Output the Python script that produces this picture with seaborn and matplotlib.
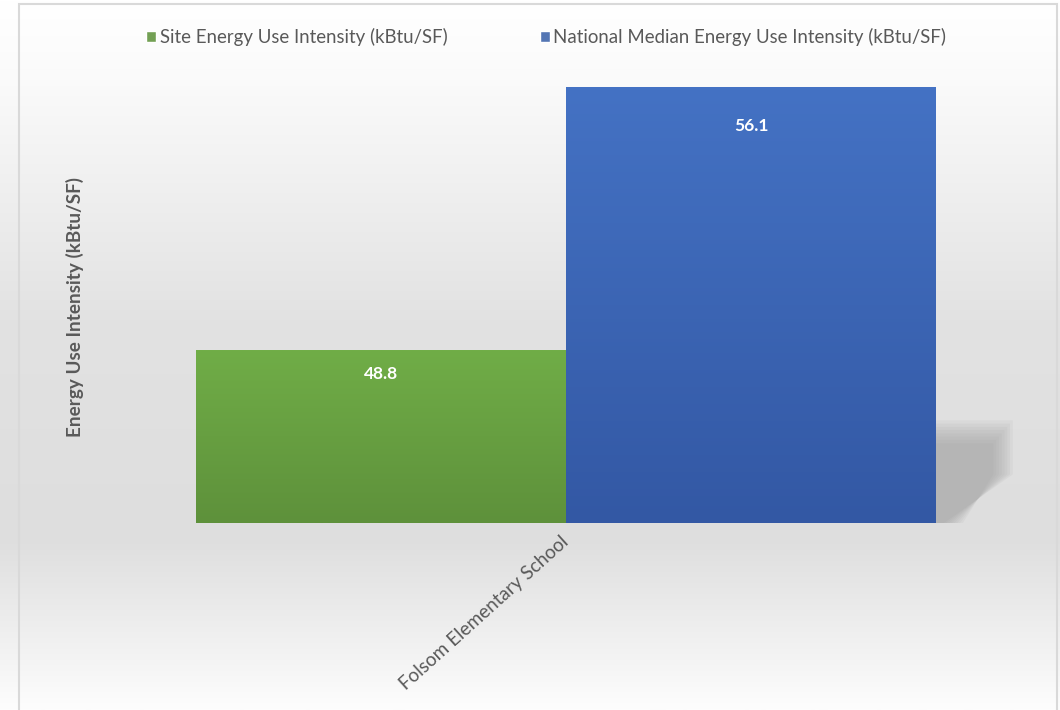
import numpy as np
import pandas as pd
import matplotlib
matplotlib.use("Agg")
import matplotlib.pyplot as plt
import seaborn as sns
from matplotlib.colors import LinearSegmentedColormap
from matplotlib.patches import Polygon, Rectangle

# Data
schools = ["Folsom Elementary School"]
series = ["Site Energy Use Intensity (kBtu/SF)", "National Median Energy Use Intensity (kBtu/SF)"]
site_eui = [48.8]
national_eui = [56.1]

df = pd.DataFrame({
    "school": schools * 2,
    "series": series[:1] * len(schools) + series[1:] * len(schools),
    "value": site_eui + national_eui,
})

GREEN_TOP, GREEN_BOT = "#70ad47", "#5e913b"
BLUE_TOP, BLUE_BOT = "#4472c4", "#3358a4"
TEXT = "#595959"

sns.set_style("white")
plt.rcParams["font.family"] = ["Lato", "DejaVu Sans"]

fig = plt.figure(figsize=(10.6, 7.1), dpi=100)

# Background gradient (Excel-like chart area fill)
bg = fig.add_axes([0, 0, 1, 1], zorder=-10)
bg_cmap = LinearSegmentedColormap.from_list(
    "bg", [(0, "#ffffff"), (0.12, "#fafafa"), (0.45, "#e2e2e2"),
           (0.76, "#dedede"), (1.0, "#fdfdfd")])
bg.imshow(np.linspace(0, 1, 256).reshape(-1, 1), aspect="auto", cmap=bg_cmap,
          extent=[0, 1, 0, 1], origin="upper")
bg.set_axis_off()
fig.add_artist(Rectangle((19 / 1060, -0.01), 1038 / 1060, 1.0 - 3.5 / 710 + 0.01,
                         transform=fig.transFigure, fill=False,
                         edgecolor="#d9d9d9", lw=1.5))

ax = fig.add_axes([196 / 1060, (710 - 523) / 710, 740 / 1060, 468 / 710])
ax.patch.set_alpha(0)
sns.barplot(data=df, x="school", y="value", hue="series",
            palette=[GREEN_TOP, BLUE_TOP], width=0.8, ax=ax, zorder=3)
ymin, ymax = 44, 57
ax.set_xlim(-0.4, 0.4)
ax.set_ylim(ymin, ymax)

# Gradient fill on the bars
grads = [(GREEN_TOP, GREEN_BOT), (BLUE_TOP, BLUE_BOT)]
bars = [p for p in ax.patches if p.get_height() > 0]
for patch, (top, bot) in zip(bars, grads):
    x0 = patch.get_x()
    x1 = x0 + patch.get_width()
    h = patch.get_height()
    cm = LinearSegmentedColormap.from_list("g", [top, bot])
    im = ax.imshow(np.linspace(0, 1, 128).reshape(-1, 1), aspect="auto", cmap=cm,
                   extent=[x0, x1, ymin, h], origin="upper", zorder=4)
    im.set_clip_path(patch)
    patch.set_edgecolor("none")

# Soft shadow to the right of the tallest bar
tall = bars[-1]
sx = tall.get_x() + tall.get_width()
dx = 0.083
for i in range(8):
    s = i * 0.003
    sh = 0.09 * i
    poly = Polygon([(sx, 46.85 - sh), (sx + dx - s, 46.85 - sh), (sx + dx - s, 45.35),
                    (sx + 0.008 + s, ymin), (sx, ymin)],
                   closed=True, facecolor="#959595", edgecolor="none",
                   alpha=0.09, clip_on=False, zorder=1)
    ax.add_patch(poly)

# Value labels inside bar tops
offsets = [-24, -39]
for patch, off in zip(bars, offsets):
    ax.annotate(f"{patch.get_height():.1f}",
                (patch.get_x() + patch.get_width() / 2, patch.get_height()),
                xytext=(0, off), textcoords="offset pixels",
                ha="center", va="center", color="white",
                fontsize=12.5, fontweight="bold", zorder=6)

handles, labels = ax.get_legend_handles_labels()
ax.get_legend().remove()
fig.legend(handles, labels, loc="center", bbox_to_anchor=(0.5155, 1 - 37 / 710),
           ncol=2, frameon=False, fontsize=13.4, labelcolor=TEXT,
           handlelength=0.5, handleheight=0.5, handletextpad=0.2,
           columnspacing=5.0)

sns.despine(ax=ax, left=True, bottom=True)
ax.set_yticks([])
ax.set_xlabel("")
ax.set_ylabel("")
ax.tick_params(axis="x", length=0, pad=12)
ax.set_xticks([0])
ax.set_xticklabels(schools, rotation=42, ha="right", va="center",
                   rotation_mode="anchor", color=TEXT, fontsize=13.6)

fig.text(75 / 1060, 1 - 307 / 710, "Energy Use Intensity (kBtu/SF)", rotation=90,
         ha="center", va="center", color=TEXT, fontsize=13.6, fontweight="bold")

fig.savefig("out.png", dpi=100)
